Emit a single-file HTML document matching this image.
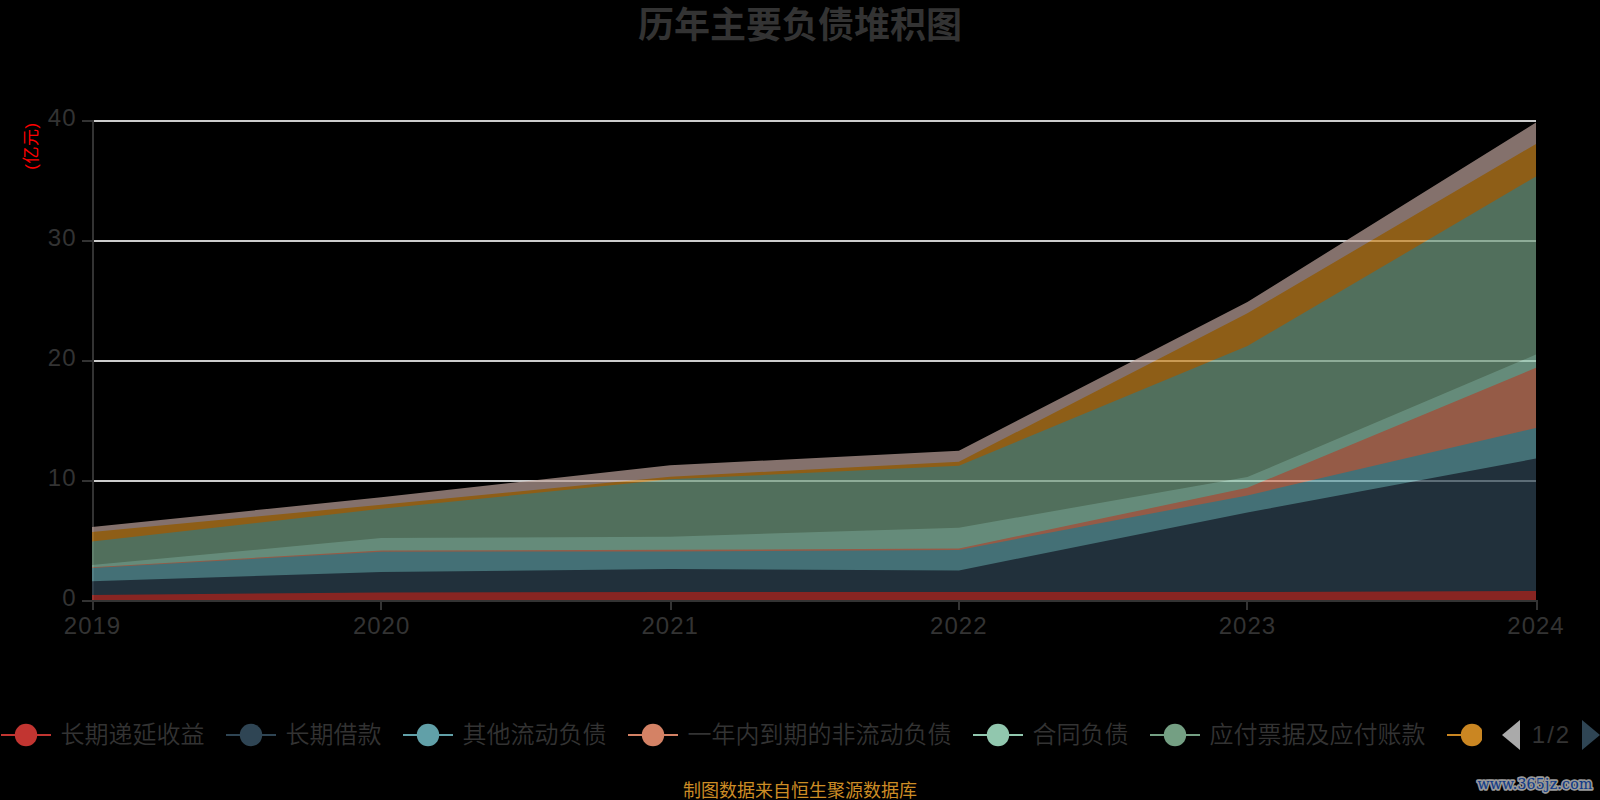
<!DOCTYPE html>
<html lang="zh-CN">
<head>
<meta charset="utf-8">
<title>历年主要负债堆积图</title>
<style>
html,body{margin:0;padding:0;background:#000;}
body{width:1600px;height:800px;overflow:hidden;}
svg{display:block;}
text{font-family:"Liberation Sans","Noto Sans CJK SC",sans-serif;}
.ax{font-size:24px;fill:#333;letter-spacing:1px;}
.lg{font-size:24px;fill:#333;font-weight:350;}
.title{font-size:36px;font-weight:bold;fill:#333;}
.unit{letter-spacing:0.5px;font-size:17px;fill:#f00;}
.src{font-size:18px;fill:#cc8c25;}
.wm{font-family:"DejaVu Serif","Liberation Serif",serif;font-size:14px;letter-spacing:0.3px;}
.wm1{fill:#999;stroke:#999;stroke-width:3.4px;stroke-linejoin:round;}
.wm2{fill:#0f3a88;stroke:#0f3a88;stroke-width:0.15px;}
</style>
</head>
<body>
<svg width="1600" height="800" viewBox="0 0 1600 800">
<rect width="1600" height="800" fill="#000"/>
<text x="800" y="38" text-anchor="middle" class="title">历年主要负债堆积图</text>
<text transform="translate(37,146) rotate(-90)" text-anchor="middle" class="unit">(亿元)</text>
<rect x="94" y="120" width="1442" height="2" fill="#ccc"/>
<rect x="94" y="240" width="1442" height="2" fill="#ccc"/>
<rect x="94" y="360" width="1442" height="2" fill="#ccc"/>
<rect x="94" y="480" width="1442" height="2" fill="#ccc"/>
<rect x="92" y="120" width="2" height="482" fill="#333"/>
<g opacity="0.7">
<polygon points="92,527.1 381.3,497.2 670.1,465.3 958.9,450.8 1247.4,302.0 1536,122.5 1536,601 1247.4,601 958.9,601 670.1,601 381.3,601 92,601" fill="#bda29a"/>
<polygon points="92,532.1 381.3,504.7 670.1,476.7 958.9,461.8 1247.4,313.2 1536,144.0 1536,601 1247.4,601 958.9,601 670.1,601 381.3,601 92,601" fill="#ca8622"/>
<polygon points="92,541.6 381.3,508.8 670.1,479.3 958.9,465.7 1247.4,346.0 1536,176.5 1536,601 1247.4,601 958.9,601 670.1,601 381.3,601 92,601" fill="#749f83"/>
<polygon points="92,565.0 381.3,538.0 670.1,536.7 958.9,527.7 1247.4,477.1 1536,354.6 1536,601 1247.4,601 958.9,601 670.1,601 381.3,601 92,601" fill="#91c7ae"/>
<polygon points="92,567.2 381.3,550.4 670.1,549.8 958.9,548.5 1247.4,487.8 1536,367.8 1536,601 1247.4,601 958.9,601 670.1,601 381.3,601 92,601" fill="#d48265"/>
<polygon points="92,568.0 381.3,551.7 670.1,551.5 958.9,549.9 1247.4,495.4 1536,427.9 1536,601 1247.4,601 958.9,601 670.1,601 381.3,601 92,601" fill="#61a0a8"/>
<polygon points="92,581.3 381.3,572.0 670.1,569.1 958.9,570.5 1247.4,512.5 1536,458.6 1536,601 1247.4,601 958.9,601 670.1,601 381.3,601 92,601" fill="#2f4554"/>
<polygon points="92,595.0 381.3,592.5 670.1,591.9 958.9,592.05 1247.4,592.0 1536,591.0 1536,601 1247.4,601 958.9,601 670.1,601 381.3,601 92,601" fill="#c23531"/>
</g>
<rect x="92" y="600" width="1446" height="2" fill="#333"/>
<rect x="82" y="120" width="11" height="2" fill="#333"/>
<rect x="82" y="240" width="11" height="2" fill="#333"/>
<rect x="82" y="360" width="11" height="2" fill="#333"/>
<rect x="82" y="480" width="11" height="2" fill="#333"/>
<rect x="82" y="600" width="11" height="2" fill="#333"/>
<rect x="92" y="600" width="2" height="10" fill="#333"/>
<rect x="380" y="600" width="2" height="10" fill="#333"/>
<rect x="670" y="600" width="2" height="10" fill="#333"/>
<rect x="958" y="600" width="2" height="10" fill="#333"/>
<rect x="1246" y="600" width="2" height="10" fill="#333"/>
<rect x="1536" y="600" width="2" height="10" fill="#333"/>
<text x="76.5" y="125.5" text-anchor="end" class="ax">40</text>
<text x="76.5" y="245.5" text-anchor="end" class="ax">30</text>
<text x="76.5" y="365.5" text-anchor="end" class="ax">20</text>
<text x="76.5" y="485.5" text-anchor="end" class="ax">10</text>
<text x="76.5" y="605.5" text-anchor="end" class="ax">0</text>
<text x="92.5" y="634" text-anchor="middle" class="ax">2019</text>
<text x="381.6" y="634" text-anchor="middle" class="ax">2020</text>
<text x="670.2" y="634" text-anchor="middle" class="ax">2021</text>
<text x="958.8" y="634" text-anchor="middle" class="ax">2022</text>
<text x="1247.4" y="634" text-anchor="middle" class="ax">2023</text>
<text x="1536" y="634" text-anchor="middle" class="ax">2024</text>
<defs><clipPath id="lc"><rect x="0" y="700" width="1482" height="70"/></clipPath></defs>
<g clip-path="url(#lc)">
<g><rect x="1" y="734" width="50" height="2" fill="#c23531"/><circle cx="26" cy="735" r="11.2" fill="#c23531"/><text x="60.5" y="742.5" class="lg">长期递延收益</text></g>
<g><rect x="226" y="734" width="50" height="2" fill="#2f4554"/><circle cx="251" cy="735" r="11.2" fill="#2f4554"/><text x="285.5" y="742.5" class="lg">长期借款</text></g>
<g><rect x="403" y="734" width="50" height="2" fill="#61a0a8"/><circle cx="428" cy="735" r="11.2" fill="#61a0a8"/><text x="462.5" y="742.5" class="lg">其他流动负债</text></g>
<g><rect x="628" y="734" width="50" height="2" fill="#d48265"/><circle cx="653" cy="735" r="11.2" fill="#d48265"/><text x="687.5" y="742.5" class="lg">一年内到期的非流动负债</text></g>
<g><rect x="973" y="734" width="50" height="2" fill="#91c7ae"/><circle cx="998" cy="735" r="11.2" fill="#91c7ae"/><text x="1032.5" y="742.5" class="lg">合同负债</text></g>
<g><rect x="1150" y="734" width="50" height="2" fill="#749f83"/><circle cx="1175" cy="735" r="11.2" fill="#749f83"/><text x="1209.5" y="742.5" class="lg">应付票据及应付账款</text></g>
<g><rect x="1447" y="734" width="50" height="2" fill="#ca8622"/><circle cx="1472" cy="735" r="11.2" fill="#ca8622"/></g>
</g>
<polygon points="1502,735 1520,720 1520,750" fill="#aaa"/>
<text x="1551.5" y="743" text-anchor="middle" class="ax" style="letter-spacing:2px">1/2</text>
<polygon points="1600,735 1582,720 1582,750" fill="#2f4554"/>
<text x="800" y="797" text-anchor="middle" class="src">制图数据来自恒生聚源数据库</text>
<text x="1535" y="789" text-anchor="middle" class="wm wm1">www.365jz.com</text>
<text x="1535" y="789" text-anchor="middle" class="wm wm2">www.365jz.com</text>
</svg>
</body>
</html>
